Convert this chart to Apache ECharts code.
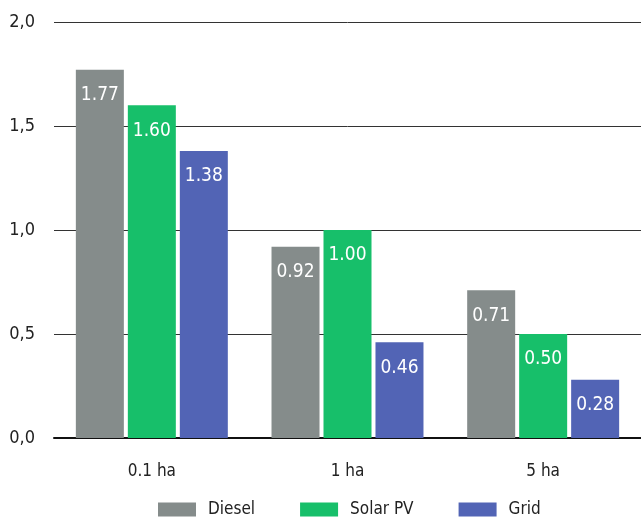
<!DOCTYPE html>
<html>
<head>
<meta charset="utf-8">
<script src="https://cdn.jsdelivr.net/npm/echarts@6/dist/echarts.min.js"></script>
<style>
  html, body { margin: 0; padding: 0; background: #fff; }
  #chart { width: 641px; height: 517px; }
</style>
</head>
<body>
<div id="chart"></div>
<script>
// Farm size categories
const categories = ['0.1 ha', '1 ha', '5 ha'];
// Cost per energy source
const diesel = [1.77, 0.92, 0.71];
const solarPV = [1.60, 1.00, 0.50];
const grid = [1.38, 0.46, 0.28];
// Y-axis tick values
const yTicks = [0, 0.5, 1.0, 1.5, 2.0];

const FONT = '"DejaVu Sans Condensed", "Liberation Sans Narrow", "DejaVu Sans", sans-serif';
const colors = { Diesel: '#858c8b', 'Solar PV': '#17bf6a', Grid: '#5264b5' };

function barSeries(name, data) {
  return {
    name: name,
    type: 'bar',
    data: data,
    barWidth: 48,
    barGap: '8.3%',
    itemStyle: { color: colors[name] },
    label: {
      show: true,
      position: 'insideTop',
      distance: 16,
      color: '#fff',
      fontFamily: FONT,
      fontSize: 19,
      formatter: p => p.value.toFixed(2)
    }
  };
}

const chart = echarts.init(document.getElementById('chart'), null, { renderer: 'canvas' });
chart.setOption({
  animation: false,
  grid: { left: 54, right: 0, top: 22, bottom: 79, containLabel: false },
  legend: {
    bottom: -1,
    left: 158,
    padding: 0,
    icon: 'rect',
    itemWidth: 38,
    itemHeight: 14,
    itemGap: 45,
    textStyle: { fontFamily: FONT, fontSize: 17, color: '#222', padding: [0, 0, 0, 7] },
    data: ['Diesel', 'Solar PV', 'Grid']
  },
  xAxis: {
    type: 'category',
    data: categories,
    axisLine: { lineStyle: { color: '#111', width: 2 } },
    axisTick: { show: false },
    axisLabel: { fontFamily: FONT, fontSize: 17, color: '#222', margin: 25 }
  },
  yAxis: {
    type: 'value',
    min: yTicks[0],
    max: yTicks[yTicks.length - 1],
    interval: 0.5,
    axisLine: { show: false },
    axisTick: { show: false },
    splitLine: { lineStyle: { color: '#333', width: 1 } },
    axisLabel: {
      fontFamily: FONT, fontSize: 18, color: '#222', margin: 19,
      formatter: v => v.toFixed(1).replace('.', ',')
    }
  },
  series: [
    barSeries('Diesel', diesel),
    barSeries('Solar PV', solarPV),
    barSeries('Grid', grid)
  ]
});
</script>
</body>
</html>
